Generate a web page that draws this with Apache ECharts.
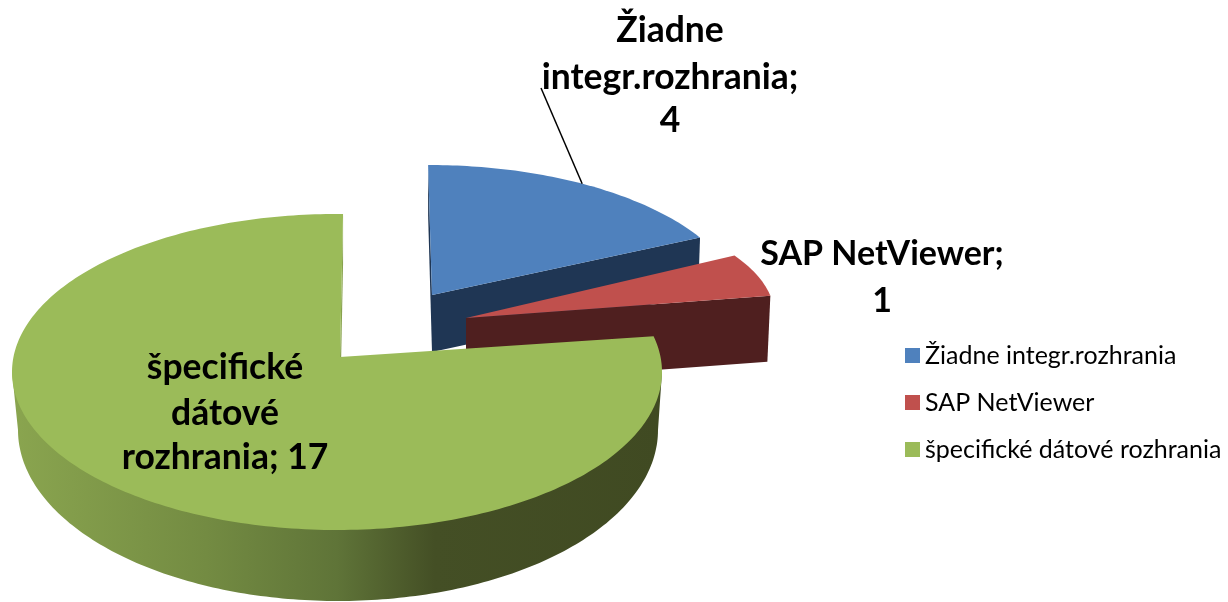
<!DOCTYPE html>
<html>
<head>
<meta charset="utf-8">
<style>html,body{margin:0;padding:0;background:#fff}#c{width:1228px;height:602px}</style>
<script src="https://cdn.jsdelivr.net/npm/echarts@6/dist/echarts.min.js"></script>
</head>
<body>
<div id="c"></div>
<script>
// ---- data ----
const categories = ['Žiadne integr.rozhrania', 'SAP NetViewer', 'špecifické dátové rozhrania'];
const values = [4, 1, 17];
const labelLines = [
  ['Žiadne', 'integr.rozhrania;', '4'],
  ['SAP NetViewer;', '1'],
  ['špecifické', 'dátové', 'rozhrania; 17']
];
const topColors = ['#4f81bd', '#c0504d', '#9bbb59'];
const wallColors = ['#1f3654', '#4f1f1f', '#88a24e'];

// ---- layout of the tilted pie (perspective drawing of each exploded slice) ----
const FONT = 'Lato, Carlito, sans-serif';
const slices = [
  {apex:[432,295], cx:429, cy:313, rx:315, ry:148, ratio:.466, skew:-4.4, depth:57, wallTilt:-2, label:{x:670, y:[31,78,121], size:35.5}},
  {apex:[466,318], cx:461, cy:315.6, rx:313.5, ry:123, ratio:.51, skew:0, depth:66, wallTilt:-3, label:{x:882, y:[254,301], size:34}},
  {apex:[340,357], cx:337, cy:372, rx:325, ry:158, ratio:.46, skew:3.2, depth:60, wallTilt:0, label:{x:225, y:[368,414,458], size:35.5}}
];
const greenBase = {cx:338, cy:430, rx:320, ry:171};
const sideStops = [
  {offset:0, color:'#8aa54f'}, {offset:.3, color:'#738b42'}, {offset:.5, color:'#5f7438'},
  {offset:.65, color:'#444f25'}, {offset:1, color:'#404a22'}
];
const leaderFrom = [541, 88];

const total = values.reduce((a, b) => a + b, 0);
const deg = Math.PI / 180;

function rim(s, thetaDeg) {
  const t = thetaDeg * deg;
  const dx = s.rx * Math.sin(t) + s.skew * Math.cos(t);
  const dy = -s.ratio * s.rx * Math.cos(t);
  const px = s.apex[0] - s.cx, py = s.apex[1] - s.cy;
  const a = dx*dx/(s.rx*s.rx) + dy*dy/(s.ry*s.ry);
  const b = 2*(px*dx/(s.rx*s.rx) + py*dy/(s.ry*s.ry));
  const c = px*px/(s.rx*s.rx) + py*py/(s.ry*s.ry) - 1;
  const k = (-b + Math.sqrt(b*b - 4*a*c)) / (2*a);
  return [s.apex[0] + k*dx, s.apex[1] + k*dy];
}
function angles(idx) {
  let start = 0;
  for (let i = 0; i < idx; i++) start += values[i] / total * 360;
  return [start, start + values[idx] / total * 360];
}
function faceOf(s, a0, a1) {
  const pts = [s.apex];
  for (let a = a0; a < a1; a += 1) pts.push(rim(s, a));
  pts.push(rim(s, a1));
  return pts;
}
const poly = (points, fill) => ({type:'polygon', shape:{points}, style:{fill}});

function renderSlice(params) {
  const i = params.seriesIndex, s = slices[i];
  const [a0, a1] = angles(i);
  const kids = [];
  const startP = rim(s, a0), endP = rim(s, a1);
  if (i === 2) {
    // outer rim (front) of the big slice
    const b = greenBase, lower = [];
    for (let a = 0; a <= 180; a += 1) lower.push([b.cx + b.rx*Math.cos(a*deg), b.cy + b.ry*Math.sin(a*deg)]);
    const fill = {type:'linear', x:s.cx-s.rx, y:0, x2:s.cx+s.rx, y2:0, global:true, colorStops:sideStops};
    kids.push(poly([[s.cx+s.rx, s.cy], ...lower, [s.cx-s.rx, s.cy]], fill));
    // thin visible wall at the closing edge
    const e = rim(s, a1);
    kids.push(poly([e, [e[0], e[1]+50], [s.apex[0], s.apex[1]+60], s.apex], wallColors[i]));
  } else {
    // wall at the end of the slice
    kids.push(poly([s.apex, endP, [endP[0]+s.wallTilt, endP[1]+s.depth], [s.apex[0], s.apex[1]+s.depth]], wallColors[i]));
    if (i === 0) {
      kids.push(poly([startP, [startP[0], startP[1]+50], [s.apex[0], s.apex[1]+s.depth], s.apex], wallColors[i]));
    }
  }
  kids.push(poly(faceOf(s, a0, a1), topColors[i]));
  if (i === 0) {
    const m = rim(s, (a0 + a1) / 2);
    kids.push({type:'line', shape:{x1:leaderFrom[0], y1:leaderFrom[1], x2:m[0], y2:m[1]}, style:{stroke:'#000', lineWidth:1.5}});
  }
  labelLines[i].forEach((t, n) => {
    kids.push({type:'text', z2:50, style:{text:t, x:s.label.x, y:s.label.y[n], fill:'#000', fontFamily:FONT,
      fontWeight:'bold', fontSize:s.label.size, align:'center', verticalAlign:'middle'}});
  });
  return {type:'group', children:kids};
}

const chart = echarts.init(document.getElementById('c'), null, {renderer:'canvas'});
chart.setOption({
  animation:false,
  backgroundColor:'#fff',
  legend:{
    orient:'vertical', left:900, top:338, itemWidth:15, itemHeight:15, itemGap:22, padding:[5,0,5,5],
    icon:'rect', data:categories,
    textStyle:{fontFamily:FONT, fontSize:25, color:'#000', lineHeight:22}
  },
  series:categories.map((name, i) => ({
    type:'custom', name, coordinateSystem:'none', renderItem:renderSlice,
    itemStyle:{color:topColors[i]}, data:[[values[i]]], z:2+i, silent:true
  }))
});
</script>
</body>
</html>
